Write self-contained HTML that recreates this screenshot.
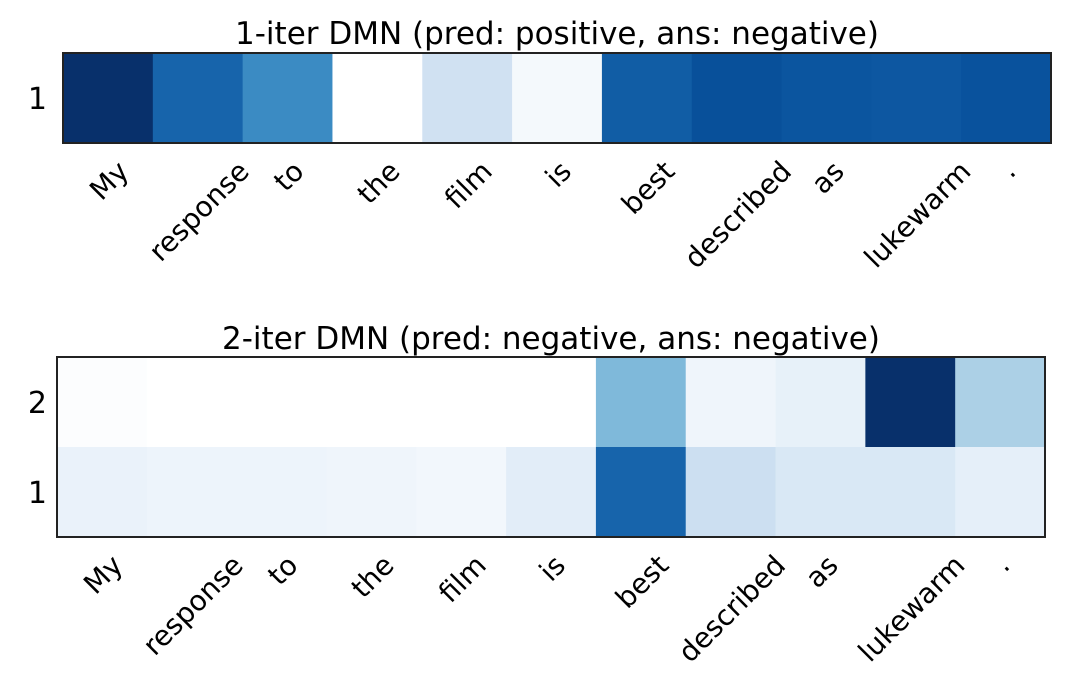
<!DOCTYPE html>
<html><head><meta charset="utf-8"><style>
body{margin:0;background:#fff;}
svg{display:block;font-family:"DejaVu Sans","Liberation Sans",sans-serif;}
</style></head><body>
<svg id="c" width="1092" height="689">
<text x="557" y="44" font-size="31" text-anchor="middle">1-iter DMN (pred: positive, ans: negative)</text>
<text x="551" y="349" font-size="31" text-anchor="middle">2-iter DMN (pred: negative, ans: negative)</text>
<g id="top"></g>
<g id="bot"></g>
</svg>
<script>
const words = ["My","response","to","the","film","is","best","described","as","lukewarm","."];
const top1 = [1.0,0.8,0.65,0.0,0.2,0.04,0.83,0.88,0.86,0.85,0.87];
const bot2 = [0.01,0,0,0,0,0,0.45,0.06,0.09,1.0,0.33];
const bot1 = [0.08,0.07,0.07,0.06,0.05,0.11,0.8,0.22,0.15,0.15,0.1];
const stops=["#ffffff","#deebf7","#c6dbef","#9ecae1","#6baed6","#4292c6","#2171b5","#08519c","#08306b"];
function hex(h){return [1,3,5].map(i=>parseInt(h.substr(i,2),16));}
function color(v){v=Math.max(0,Math.min(1,v));const p=v*8,i=Math.min(7,Math.floor(p)),t=p-i;const a=hex(stops[i]),b=hex(stops[i+1]);return "rgb("+a.map((x,k)=>Math.round(x+(b[k]-x)*t)).join(",")+")";}
const NS="http://www.w3.org/2000/svg";
function mk(tag,attrs,parent){const e=document.createElementNS(NS,tag);for(const k in attrs)e.setAttribute(k,attrs[k]);parent.appendChild(e);return e;}
function heat(g,x0,x1,y0,rowH,rows,rowLabels,prefix){
  const n=words.length,cw=(x1-x0)/n;
  const xs=i=>x0+i*cw;
  rows.forEach((vals,r)=>{
    const y=y0+r*rowH;
    vals.forEach((v,i)=>{
      const rc=mk("rect",{x:xs(i),y:y,width:cw+0.5,height:rowH,fill:color(v)},g);
      
      
    });
    const t=mk("text",{x:47,y:y+rowH/2+11,"font-size":30,"text-anchor":"end"},g);
    t.textContent=rowLabels[r];
    
    
  });
  const H=rowH*rows.length;
  const b=mk("rect",{x:x0,y:y0,width:x1-x0,height:H,fill:"none",stroke:"#222","stroke-width":2},g);
  
  
  words.forEach((w,i)=>{
    const cx=xs(i)+cw/2;
    const t=mk("text",{"font-size":28,"text-anchor":"end"},g);
    t.textContent=w;
    
    
    const L=t.getComputedTextLength();
    const d=L/Math.SQRT2;
    const ex=cx+d/2+8, ey=y0+H+30;
    t.setAttribute("transform","translate("+ex+","+ey+") rotate(-45)");
  });
}
heat(document.getElementById("top"),63,1051,53,90,[top1],["1"],"top");
heat(document.getElementById("bot"),57,1045,357,90,[bot2,bot1],["2","1"],"bottom");
</script>
</body></html>
